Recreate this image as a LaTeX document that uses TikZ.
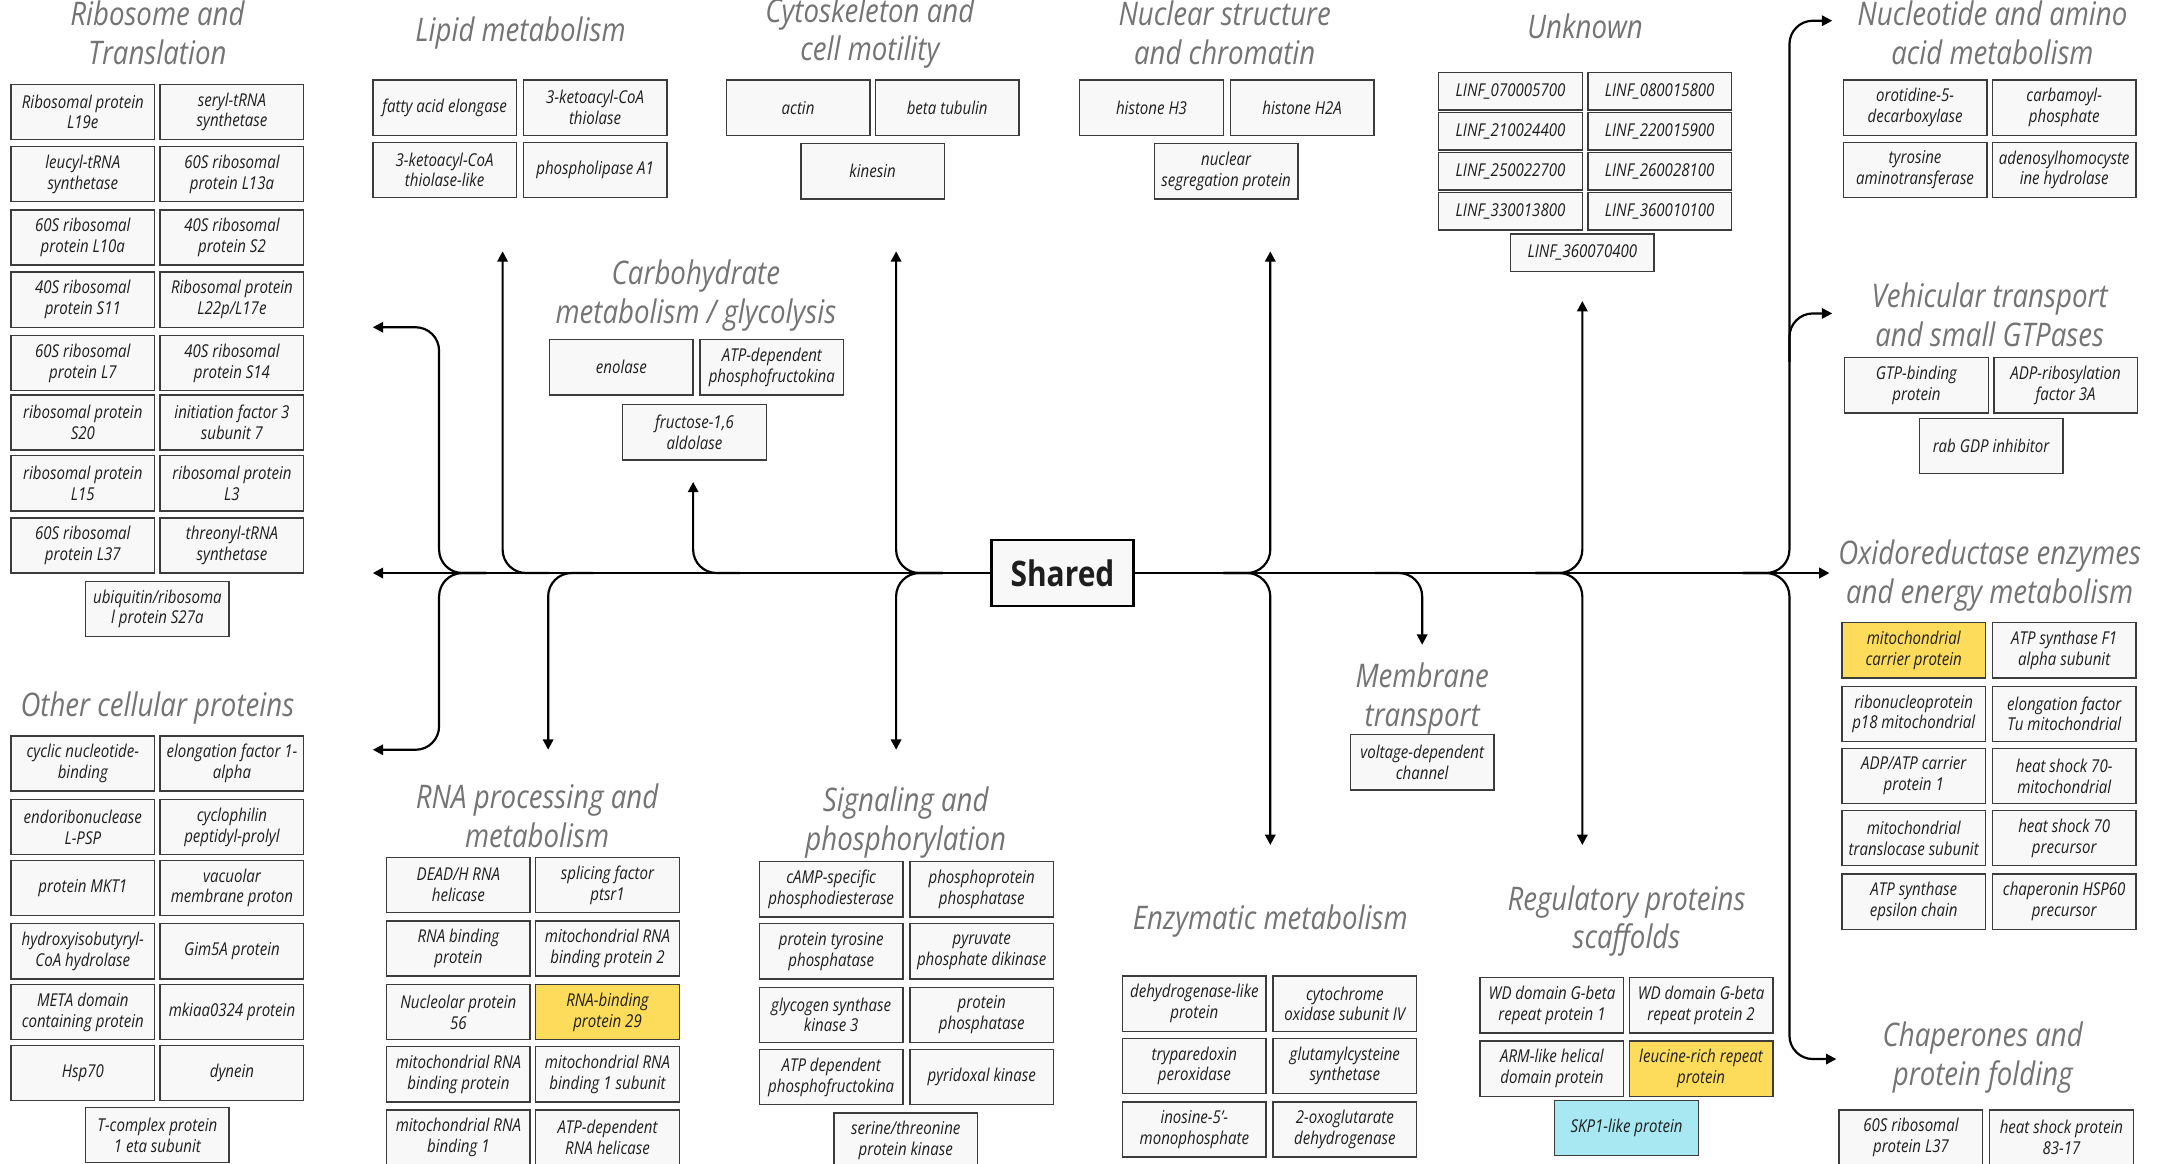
\documentclass[tikz,border=0pt]{standalone}
\usepackage{fontspec}
\setmainfont{Open Sans}[FakeStretch=0.85]
\usetikzlibrary{arrows.meta}
\definecolor{fbInk}{HTML}{1E1E1E}
\definecolor{fbEdge}{HTML}{3C3C3C}
\definecolor{fbPale}{HTML}{F8F8F8}
\definecolor{fbGray}{HTML}{747474}
\definecolor{fbGold}{HTML}{FDDC5C}
\definecolor{fbCyan}{HTML}{A8E8F2}
\tikzset{
  every picture/.style={text=fbInk},
  prot box/.style={draw=fbEdge, line width=0.6pt, fill=fbPale, align=center,
    minimum width=2.08cm, minimum height=0.8cm, inner sep=1pt,
    font=\itshape\fontsize{7.3}{8.6}\selectfont},
  prot small/.style={prot box, minimum height=0.54cm},
  prot hit/.style={prot box, fill=fbGold},
  prot skp/.style={prot box, fill=fbCyan},
  group title/.style={align=center, text=fbGray,
    font=\itshape\fontsize{13.4}{16}\selectfont},
  shared box/.style={draw=black, line width=1pt, fill=fbPale,
    minimum width=2.06cm, minimum height=0.96cm,
    font=\bfseries\fontsize{14.5}{17}\selectfont},
  spine/.style={-{Triangle[length=1.5mm,width=1.5mm]}, draw=black, line width=1.1pt},
  branch/.style={-{Triangle[length=1.5mm,width=1.5mm]}, draw=black,
    line width=0.9pt, rounded corners=0.34cm}
}
\begin{document}
\begin{tikzpicture}[x=0.02cm,y=-0.02cm]
  \useasboundingbox (0,0) rectangle (1568,843);
  \fill[white] (0,0) rectangle (1568,843);

  % group titles
  \node[group title] (tRib) at (114,24) {Ribosome and\\Translation};
  \node[group title] (tLip) at (377,24) {Lipid metabolism};
  \node[group title] (tCyto) at (630,24) {Cytoskeleton and\\cell motility};
  \node[group title] (tNuc) at (887,24) {Nuclear structure\\and chromatin};
  \node[group title] (tUnk) at (1148,19) {Unknown};
  \node[group title] (tNucl) at (1443,24) {Nucleotide and amino\\acid metabolism};
  \node[group title] (tCarb) at (504,214) {Carbohydrate\\metabolism / glycolysis};
  \node[group title] (tVeh) at (1441,228) {Vehicular transport\\and small GTPases};
  \node[group title] (tOx) at (1441,417) {Oxidoreductase enzymes\\and energy metabolism};
  \node[group title] (tOth) at (114,513) {Other cellular proteins};
  \node[group title] (tRna) at (389,591) {RNA processing and\\metabolism};
  \node[group title] (tSig) at (656,596) {Signaling and\\phosphorylation};
  \node[group title] (tMem) at (1030,506) {Membrane\\transport};
  \node[group title] (tEnz) at (920,667) {Enzymatic metabolism};
  \node[group title] (tReg) at (1178,667) {Regulatory proteins\\scaffolds};
  \node[group title] (tChap) at (1436,766) {Chaperones and\\protein folding};

  % ribosome and translation
  \foreach \nm/\xx/\yy/\txt in {
    rib1/60/81/{Ribosomal protein\\L19e}, rib2/168/81/{seryl-tRNA\\synthetase},
    rib3/60/126/{leucyl-tRNA\\synthetase}, rib4/168/126/{60S ribosomal\\protein L13a},
    rib5/60/172/{60S ribosomal\\protein L10a}, rib6/168/172/{40S ribosomal\\protein S2},
    rib7/60/217/{40S ribosomal\\protein S11}, rib8/168/217/{Ribosomal protein\\L22p/L17e},
    rib9/60/263/{60S ribosomal\\protein L7}, rib10/168/263/{40S ribosomal\\protein S14},
    rib11/60/306/{ribosomal protein\\S20}, rib12/168/306/{initiation factor 3\\subunit 7},
    rib13/60/350/{ribosomal protein\\L15}, rib14/168/350/{ribosomal protein\\L3},
    rib15/60/395/{60S ribosomal\\protein L37}, rib16/168/395/{threonyl-tRNA\\synthetase},
    rib17/114/441/{ubiquitin/ribosoma\\l protein S27a}}
    \node[prot box] (\nm) at (\xx,\yy) {\txt};

  % lipid, cytoskeleton, nuclear
  \foreach \nm/\xx/\yy/\txt in {
    lip1/322/78/{fatty acid elongase}, lip2/431/78/{3-ketoacyl-CoA\\thiolase},
    lip3/322/123/{3-ketoacyl-CoA\\thiolase-like}, lip4/431/123/{phospholipase A1},
    cyto1/578/78/{actin}, cyto2/686/78/{beta tubulin}, cyto3/632/124/{kinesin},
    nuc1/834/78/{histone H3}, nuc2/943/78/{histone H2A},
    nuc3/888/124/{nuclear\\segregation protein}}
    \node[prot box] (\nm) at (\xx,\yy) {\txt};

  % unknown
  \foreach \nm/\xx/\yy/\txt in {
    unk1/1094/66/{LINF\_070005700}, unk2/1202/66/{LINF\_080015800},
    unk3/1094/95/{LINF\_210024400}, unk4/1202/95/{LINF\_220015900},
    unk5/1094/124/{LINF\_250022700}, unk6/1202/124/{LINF\_260028100},
    unk7/1094/153/{LINF\_330013800}, unk8/1202/153/{LINF\_360010100},
    unk9/1146/183/{LINF\_360070400}}
    \node[prot small] (\nm) at (\xx,\yy) {\txt};

  % nucleotide, carbohydrate, vehicular
  \foreach \nm/\xx/\yy/\txt in {
    nucl1/1387/78/{orotidine-5-\\decarboxylase}, nucl2/1495/78/{carbamoyl-\\phosphate},
    nucl3/1387/123/{tyrosine\\aminotransferase}, nucl4/1495/123/{adenosylhomocyste\\ine hydrolase},
    carb1/450/266/{enolase}, carb2/559/266/{ATP-dependent\\phosphofructokina},
    carb3/503/313/{fructose-1,6\\aldolase},
    veh1/1388/279/{GTP-binding\\protein}, veh2/1496/279/{ADP-ribosylation\\factor 3A},
    veh3/1442/323/{rab GDP inhibitor}}
    \node[prot box] (\nm) at (\xx,\yy) {\txt};

  % oxidoreductase and energy
  \node[prot hit] (ox1) at (1386,471) {mitochondrial\\carrier protein};
  \foreach \nm/\xx/\yy/\txt in {
    ox2/1495/471/{ATP synthase F1\\alpha subunit},
    ox3/1386/517/{ribonucleoprotein\\p18 mitochondrial}, ox4/1495/517/{elongation factor\\Tu mitochondrial},
    ox5/1386/562/{ADP/ATP carrier\\protein 1}, ox6/1495/562/{heat shock 70-\\mitochondrial},
    ox7/1386/607/{mitochondrial\\translocase subunit}, ox8/1495/607/{heat shock 70\\precursor},
    ox9/1386/653/{ATP synthase\\epsilon chain}, ox10/1495/653/{chaperonin HSP60\\precursor}}
    \node[prot box] (\nm) at (\xx,\yy) {\txt};

  % other cellular proteins
  \foreach \nm/\xx/\yy/\txt in {
    oth1/60/553/{cyclic nucleotide-\\binding}, oth2/168/553/{elongation factor 1-\\alpha},
    oth3/60/599/{endoribonuclease\\L-PSP}, oth4/168/599/{cyclophilin\\peptidyl-prolyl},
    oth5/60/643/{protein MKT1}, oth6/168/643/{vacuolar\\membrane proton},
    oth7/60/689/{hydroxyisobutyryl-\\CoA hydrolase}, oth8/168/689/{Gim5A protein},
    oth9/60/733/{META domain\\containing protein}, oth10/168/733/{mkiaa0324 protein},
    oth11/60/777/{Hsp70}, oth12/168/777/{dynein},
    oth13/114/822/{T-complex protein\\1 eta subunit}}
    \node[prot box] (\nm) at (\xx,\yy) {\txt};

  % rna processing
  \node[prot hit] (rna6) at (440,733) {RNA-binding\\protein 29};
  \foreach \nm/\xx/\yy/\txt in {
    rna1/332/641/{DEAD/H RNA\\helicase}, rna2/440/641/{splicing factor\\ptsr1},
    rna3/332/687/{RNA binding\\protein}, rna4/440/687/{mitochondrial RNA\\binding protein 2},
    rna5/332/733/{Nucleolar protein\\56},
    rna7/332/778/{mitochondrial RNA\\binding protein}, rna8/440/778/{mitochondrial RNA\\binding 1 subunit},
    rna9/332/824/{mitochondrial RNA\\binding 1}, rna10/440/824/{ATP-dependent\\RNA helicase}}
    \node[prot box] (\nm) at (\xx,\yy) {\txt};

  % signaling, membrane, enzymatic
  \foreach \nm/\xx/\yy/\txt in {
    sig1/602/644/{cAMP-specific\\phosphodiesterase}, sig2/711/644/{phosphoprotein\\phosphatase},
    sig3/602/689/{protein tyrosine\\phosphatase}, sig4/711/689/{pyruvate\\phosphate dikinase},
    sig5/602/735/{glycogen synthase\\kinase 3}, sig6/711/735/{protein\\phosphatase},
    sig7/602/780/{ATP dependent\\phosphofructokina}, sig8/711/780/{pyridoxal kinase},
    sig9/656/826/{serine/threonine\\protein kinase},
    mem1/1030/552/{voltage-dependent\\channel},
    enz1/865/727/{dehydrogenase-like\\protein}, enz2/974/727/{cytochrome\\oxidase subunit IV},
    enz3/865/772/{tryparedoxin\\peroxidase}, enz4/974/772/{glutamylcysteine\\synthetase},
    enz5/865/818/{inosine-5'-\\monophosphate}, enz6/974/818/{2-oxoglutarate\\dehydrogenase}}
    \node[prot box] (\nm) at (\xx,\yy) {\txt};

  % regulatory, chaperones
  \node[prot box] (reg1) at (1124,728) {WD domain G-beta\\repeat protein 1};
  \node[prot box] (reg2) at (1232,728) {WD domain G-beta\\repeat protein 2};
  \node[prot box] (reg3) at (1124,774) {ARM-like helical\\domain protein};
  \node[prot hit] (reg4) at (1232,774) {leucine-rich repeat\\protein};
  \node[prot skp] (reg5) at (1178,817) {SKP1-like protein};
  \node[prot box] (chap1) at (1384,824) {60S ribosomal\\protein L37};
  \node[prot box] (chap2) at (1493,824) {heat shock protein\\83-17};

  % spine
  \node[shared box] (shared) at (769.5,415) {Shared};
  \coordinate (spineL) at (270,415);
  \coordinate (oxTip) at (1325,415);
  \draw[spine] (shared.west) -- (spineL);
  \draw[spine] (shared.east) -- (oxTip);

  % branch ends
  \coordinate (riboTip) at (270,237);  \coordinate (riboBend) at (318,237);
  \coordinate (othTip) at (270,543);   \coordinate (othBend) at (318,543);
  \coordinate (riboJ) at (352,415);
  \coordinate (lipTip) at (364,182);   \coordinate (lipJ) at (398,415);
  \coordinate (rnaTip) at (397,543);   \coordinate (rnaJ) at (430,415);
  \coordinate (carbTip) at (502,349);  \coordinate (carbJ) at (536,415);
  \coordinate (cytoTip) at (649,182);  \coordinate (sigTip) at (649,543);
  \coordinate (cytoJ) at (683,415);
  \coordinate (nucTip) at (920,182);   \coordinate (enzTip) at (920,612);
  \coordinate (nucJ) at (886,415);
  \coordinate (memTip) at (1030,467);  \coordinate (memJ) at (996,415);
  \coordinate (unkTip) at (1146,218);  \coordinate (regTip) at (1146,612);
  \coordinate (unkJ) at (1112,415);
  \coordinate (nuclTip) at (1327,15);  \coordinate (nuclBend) at (1296,15);
  \coordinate (chapTip) at (1330,767); \coordinate (chapBend) at (1296,767);
  \coordinate (vehTip) at (1327,227);  \coordinate (vehJ) at (1296,262);
  \coordinate (nuclJ) at (1262,415);

  % branches
  \draw[branch] (riboJ) -| (riboBend) -- (riboTip);
  \draw[branch] (riboJ) -| (othBend) -- (othTip);
  \draw[branch] (lipJ) -| (lipTip);
  \draw[branch] (rnaJ) -| (rnaTip);
  \draw[branch] (carbJ) -| (carbTip);
  \draw[branch] (cytoJ) -| (cytoTip);
  \draw[branch] (cytoJ) -| (sigTip);
  \draw[branch] (nucJ) -| (nucTip);
  \draw[branch] (nucJ) -| (enzTip);
  \draw[branch] (memJ) -| (memTip);
  \draw[branch] (unkJ) -| (unkTip);
  \draw[branch] (unkJ) -| (regTip);
  \draw[branch] (nuclJ) -| (nuclBend) -- (nuclTip);
  \draw[branch] (vehJ) |- (vehTip);
  \draw[branch] (nuclJ) -| (chapBend) -- (chapTip);
\end{tikzpicture}
\end{document}
